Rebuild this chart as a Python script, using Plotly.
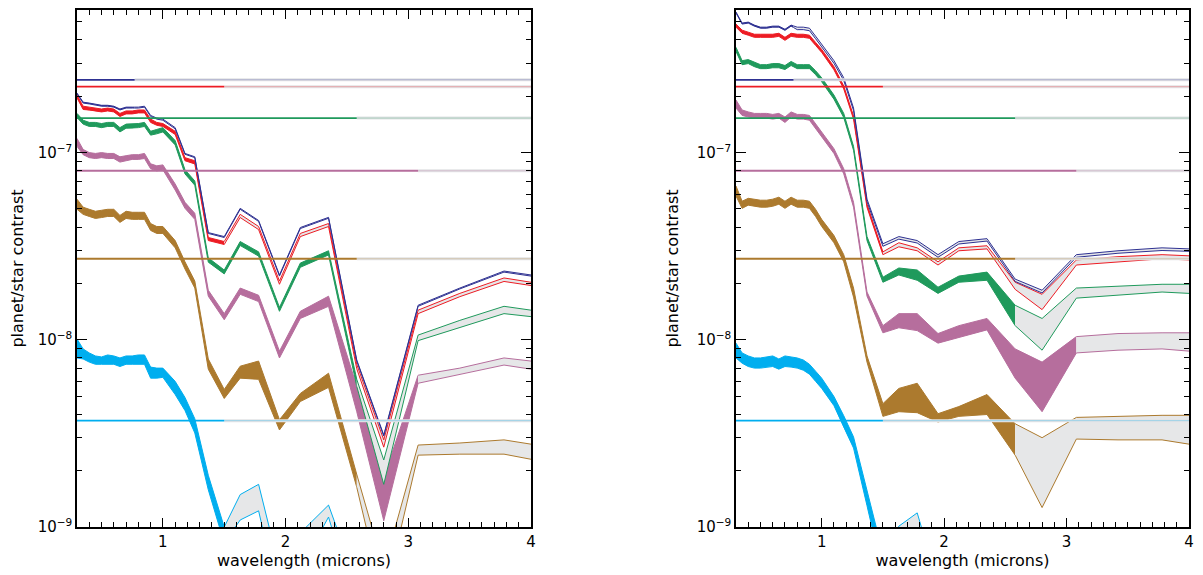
import numpy as np
import plotly.graph_objects as go

# ---------------- data ----------------
wavelength = [0.30, 0.35, 0.40, 0.45, 0.50, 0.55, 0.60, 0.65, 0.70, 0.75, 0.80, 0.85, 0.90, 0.95, 1.00,
              1.10, 1.18, 1.26, 1.37, 1.50, 1.63, 1.78, 1.95, 2.12, 2.35, 2.58, 2.80, 3.08, 3.42, 3.78, 4.00]

series_names = ["navy", "red", "green", "purple", "brown", "cyan"]
series_colors = ["#2e3192", "#ed1c24", "#1f9a5c", "#b66e9d", "#ac7a2e", "#00aeef"]

# detection-limit levels and the wavelength where each limit stops being "accessible"
limit_level = [2.45e-7, 2.25e-7, 1.53e-7, 8.0e-8, 2.71e-8, 3.70e-9]
limit_end = [0.77, 1.50, 2.58, 3.08, 2.58, 1.50]

# ---- left panel: upper / lower edges of each band ----
navy_hi_a = [2.08e-7, 1.86e-7, 1.84e-7, 1.82e-7, 1.79e-7, 1.79e-7, 1.77e-7, 1.71e-7, 1.75e-7, 1.75e-7, 1.75e-7, 1.77e-7, 1.58e-7, 1.53e-7, 1.51e-7,
             1.36e-7, 9.9e-8, 9.5e-8, 3.74e-8, 3.56e-8, 5.04e-8, 4.34e-8, 2.22e-8, 3.98e-8, 4.51e-8, 7.8e-9, 3.1e-9, 1.53e-8, 1.89e-8, 2.33e-8, 2.22e-8]
navy_lo_a = [2.06e-7, 1.84e-7, 1.82e-7, 1.80e-7, 1.77e-7, 1.77e-7, 1.75e-7, 1.69e-7, 1.73e-7, 1.73e-7, 1.73e-7, 1.75e-7, 1.56e-7, 1.51e-7, 1.49e-7,
             1.34e-7, 9.8e-8, 9.4e-8, 3.70e-8, 3.52e-8, 4.98e-8, 4.29e-8, 2.19e-8, 3.93e-8, 4.46e-8, 7.7e-9, 3.06e-9, 1.51e-8, 1.87e-8, 2.30e-8, 2.19e-8]
red_hi_a = [2.03e-7, 1.77e-7, 1.75e-7, 1.73e-7, 1.71e-7, 1.73e-7, 1.71e-7, 1.62e-7, 1.67e-7, 1.67e-7, 1.69e-7, 1.69e-7, 1.51e-7, 1.45e-7, 1.43e-7,
            1.30e-7, 9.4e-8, 9.05e-8, 3.52e-8, 3.35e-8, 4.68e-8, 4.03e-8, 2.06e-8, 3.70e-8, 4.18e-8, 7.4e-9, 2.92e-9, 1.44e-8, 1.77e-8, 2.14e-8, 2.03e-8]
red_lo_a = [1.96e-7, 1.70e-7, 1.69e-7, 1.67e-7, 1.65e-7, 1.67e-7, 1.65e-7, 1.56e-7, 1.61e-7, 1.61e-7, 1.63e-7, 1.63e-7, 1.45e-7, 1.40e-7, 1.38e-7,
            1.25e-7, 9.05e-8, 8.7e-8, 3.39e-8, 3.23e-8, 4.5e-8, 3.88e-8, 1.98e-8, 3.56e-8, 4.03e-8, 7.0e-9, 2.67e-9, 1.38e-8, 1.7e-8, 2.05e-8, 1.95e-8]
green_hi_a = [1.62e-7, 1.49e-7, 1.45e-7, 1.45e-7, 1.43e-7, 1.45e-7, 1.45e-7, 1.36e-7, 1.42e-7, 1.42e-7, 1.43e-7, 1.45e-7, 1.30e-7, 1.33e-7, 1.36e-7,
              1.16e-7, 8.1e-8, 7.06e-8, 2.74e-8, 2.36e-8, 3.35e-8, 2.95e-8, 1.49e-8, 2.57e-8, 2.99e-8, 6.15e-9, 2.28e-9, 1.06e-8, 1.27e-8, 1.51e-8, 1.44e-8]
green_lo_a = [1.54e-7, 1.42e-7, 1.38e-7, 1.38e-7, 1.36e-7, 1.38e-7, 1.38e-7, 1.29e-7, 1.35e-7, 1.35e-7, 1.36e-7, 1.38e-7, 1.24e-7, 1.26e-7, 1.29e-7,
              1.10e-7, 7.7e-8, 6.7e-8, 2.6e-8, 2.25e-8, 3.19e-8, 2.8e-8, 1.42e-8, 2.44e-8, 2.84e-8, 5.64e-9, 1.69e-9, 9.9e-9, 1.16e-8, 1.38e-8, 1.33e-8]
purple_hi_a = [1.19e-7, 1.04e-7, 1.0e-7, 9.9e-8, 1.0e-7, 9.9e-8, 9.9e-8, 9.5e-8, 9.63e-8, 9.75e-8, 9.75e-8, 9.9e-8, 8.72e-8, 8.5e-8, 8.6e-8,
               6.8e-8, 5.43e-8, 4.74e-8, 1.84e-8, 1.38e-8, 1.89e-8, 1.73e-8, 8.7e-9, 1.42e-8, 1.71e-8, 5.64e-9, 1.84e-9, 6.47e-9, 7.06e-9, 8.0e-9, 7.7e-9]
purple_lo_a = [1.08e-7, 9.75e-8, 9.4e-8, 9.3e-8, 9.4e-8, 9.3e-8, 9.3e-8, 8.9e-8, 9.05e-8, 9.2e-8, 9.2e-8, 9.3e-8, 8.2e-8, 7.99e-8, 8.1e-8,
               6.31e-8, 5.04e-8, 4.40e-8, 1.71e-8, 1.28e-8, 1.75e-8, 1.60e-8, 8.0e-9, 1.30e-8, 1.51e-8, 4.13e-9, 1.08e-9, 5.86e-9, 6.55e-9, 7.33e-9, 6.97e-9]
brown_hi_a = [5.64e-8, 5.11e-8, 4.98e-8, 4.86e-8, 4.92e-8, 4.98e-8, 4.98e-8, 4.62e-8, 4.86e-8, 4.80e-8, 4.80e-8, 4.80e-8, 4.18e-8, 4.03e-8, 4.03e-8,
              3.39e-8, 2.61e-8, 2.06e-8, 7.9e-9, 5.43e-9, 7.23e-9, 7.7e-9, 3.74e-9, 5.17e-9, 6.63e-9, 1.91e-9, 6e-10, 2.74e-9, 2.81e-9, 2.92e-9, 2.77e-9]
brown_lo_a = [4.98e-8, 4.68e-8, 4.56e-8, 4.45e-8, 4.5e-8, 4.56e-8, 4.56e-8, 4.24e-8, 4.45e-8, 4.40e-8, 4.40e-8, 4.40e-8, 3.84e-8, 3.70e-8, 3.70e-8,
              3.10e-8, 2.39e-8, 1.89e-8, 6.97e-9, 4.86e-9, 6.24e-9, 6.15e-9, 3.30e-9, 4.68e-9, 5.57e-9, 1.63e-9, 4e-10, 2.42e-9, 2.45e-9, 2.45e-9, 2.30e-9]
cyan_hi_a = [1.01e-8, 8.94e-9, 8.51e-9, 8.2e-9, 8.1e-9, 8.3e-9, 8.2e-9, 8.0e-9, 8.2e-9, 8.2e-9, 8.3e-9, 8.3e-9, 7.15e-9, 7.06e-9, 7.06e-9,
             6.0e-9, 4.92e-9, 3.79e-9, 1.89e-9, 1.0e-9, 1.49e-9, 1.69e-9, 6e-10, 9.3e-10, 1.31e-9, 5e-10, 3e-10, 3.5e-10, 3.6e-10, 3.7e-10, 3.6e-10]
cyan_lo_a = [8.0e-9, 7.9e-9, 7.6e-9, 7.4e-9, 7.4e-9, 7.4e-9, 7.4e-9, 7.2e-9, 7.4e-9, 7.4e-9, 7.4e-9, 7.4e-9, 6.24e-9, 6.24e-9, 6.3e-9,
             5.1e-9, 4.19e-9, 3.18e-9, 1.58e-9, 8.2e-10, 1.09e-9, 1.22e-9, 4e-10, 6e-10, 1.13e-9, 3.5e-10, 2e-10, 2.5e-10, 2.5e-10, 2.6e-10, 2.5e-10]

# ---- right panel ----
navy_hi_b = [5.64e-7, 4.92e-7, 4.98e-7, 4.80e-7, 4.68e-7, 4.68e-7, 4.74e-7, 4.74e-7, 4.56e-7, 4.80e-7, 4.68e-7, 4.68e-7, 4.62e-7, 4.19e-7, 3.79e-7,
             3.10e-7, 2.51e-7, 1.73e-7, 5.64e-8, 3.26e-8, 3.56e-8, 3.39e-8, 2.85e-8, 3.35e-8, 3.47e-8, 2.11e-8, 1.84e-8, 2.85e-8, 2.99e-8, 3.10e-8, 3.06e-8]
navy_lo_b = [5.57e-7, 4.86e-7, 4.92e-7, 4.74e-7, 4.62e-7, 4.62e-7, 4.68e-7, 4.68e-7, 4.50e-7, 4.74e-7, 4.54e-7, 4.54e-7, 4.48e-7, 4.06e-7, 3.68e-7,
             3.0e-7, 2.43e-7, 1.68e-7, 5.47e-8, 3.16e-8, 3.45e-8, 3.29e-8, 2.76e-8, 3.25e-8, 3.37e-8, 2.05e-8, 1.78e-8, 2.76e-8, 2.90e-8, 3.0e-8, 2.97e-8]
red_hi_b = [4.86e-7, 4.51e-7, 4.40e-7, 4.29e-7, 4.29e-7, 4.29e-7, 4.29e-7, 4.34e-7, 4.13e-7, 4.34e-7, 4.29e-7, 4.29e-7, 4.24e-7, 3.88e-7, 3.56e-7,
            2.88e-7, 2.27e-7, 1.57e-7, 5.30e-8, 2.95e-8, 3.30e-8, 3.10e-8, 2.61e-8, 3.10e-8, 3.18e-8, 2.03e-8, 1.75e-8, 2.67e-8, 2.78e-8, 2.85e-8, 2.81e-8]
red_lo_b = [4.68e-7, 4.34e-7, 4.24e-7, 4.13e-7, 4.13e-7, 4.13e-7, 4.13e-7, 4.18e-7, 3.98e-7, 4.18e-7, 4.13e-7, 4.13e-7, 4.08e-7, 3.74e-7, 3.43e-7,
            2.77e-7, 2.19e-7, 1.51e-7, 5.10e-8, 2.85e-8, 3.14e-8, 2.99e-8, 2.51e-8, 2.99e-8, 3.06e-8, 1.86e-8, 1.45e-8, 2.51e-8, 2.61e-8, 2.71e-8, 2.67e-8]
green_hi_b = [3.65e-7, 3.10e-7, 3.14e-7, 3.03e-7, 2.95e-7, 2.95e-7, 2.99e-7, 2.99e-7, 2.92e-7, 3.07e-7, 2.95e-7, 2.95e-7, 2.95e-7, 2.74e-7, 2.51e-7,
              2.03e-7, 1.62e-7, 1.08e-7, 3.56e-8, 2.16e-8, 2.42e-8, 2.36e-8, 1.91e-8, 2.19e-8, 2.30e-8, 1.53e-8, 1.30e-8, 1.89e-8, 1.93e-8, 1.98e-8, 1.98e-8]
green_lo_b = [3.47e-7, 2.95e-7, 2.99e-7, 2.88e-7, 2.81e-7, 2.81e-7, 2.84e-7, 2.84e-7, 2.78e-7, 2.92e-7, 2.81e-7, 2.81e-7, 2.81e-7, 2.61e-7, 2.39e-7,
              1.93e-7, 1.54e-7, 1.03e-7, 3.39e-8, 2.03e-8, 2.22e-8, 2.08e-8, 1.77e-8, 2.03e-8, 2.08e-8, 1.19e-8, 8.8e-9, 1.67e-8, 1.73e-8, 1.80e-8, 1.77e-8]
purple_hi_b = [1.91e-7, 1.69e-7, 1.65e-7, 1.62e-7, 1.62e-7, 1.62e-7, 1.60e-7, 1.62e-7, 1.55e-7, 1.65e-7, 1.60e-7, 1.60e-7, 1.58e-7, 1.43e-7, 1.30e-7,
               1.05e-7, 8.2e-8, 5.43e-8, 1.80e-8, 1.19e-8, 1.38e-8, 1.38e-8, 1.08e-8, 1.19e-8, 1.30e-8, 8.94e-9, 7.6e-9, 1.04e-8, 1.08e-8, 1.09e-8, 1.09e-8]
purple_lo_b = [1.73e-7, 1.58e-7, 1.55e-7, 1.53e-7, 1.53e-7, 1.53e-7, 1.51e-7, 1.53e-7, 1.45e-7, 1.55e-7, 1.51e-7, 1.51e-7, 1.49e-7, 1.35e-7, 1.22e-7,
               9.9e-8, 7.7e-8, 5.11e-8, 1.71e-8, 1.09e-8, 1.16e-8, 1.12e-8, 9.6e-9, 1.03e-8, 1.13e-8, 6.24e-9, 4.13e-9, 8.51e-9, 8.8e-9, 8.94e-9, 8.7e-9]
brown_hi_b = [6.63e-8, 5.50e-8, 5.70e-8, 5.64e-8, 5.57e-8, 5.57e-8, 5.64e-8, 5.78e-8, 5.50e-8, 5.78e-8, 5.57e-8, 5.57e-8, 5.50e-8, 4.98e-8, 4.40e-8,
              3.61e-8, 2.85e-8, 1.89e-8, 8.2e-9, 4.56e-9, 5.50e-9, 5.86e-9, 4.03e-9, 4.4e-9, 5.10e-9, 3.56e-9, 3.0e-9, 3.85e-9, 3.9e-9, 3.95e-9, 3.95e-9]
brown_lo_b = [5.86e-8, 5.04e-8, 5.24e-8, 5.17e-8, 5.11e-8, 5.11e-8, 5.17e-8, 5.30e-8, 5.04e-8, 5.30e-8, 5.11e-8, 5.11e-8, 5.04e-8, 4.56e-8, 4.03e-8,
              3.30e-8, 2.61e-8, 1.69e-8, 7.6e-9, 3.9e-9, 4.13e-9, 4.08e-9, 3.64e-9, 3.9e-9, 3.99e-9, 2.42e-9, 1.27e-9, 2.95e-9, 2.92e-9, 2.92e-9, 2.77e-9]
cyan_hi_b = [9.6e-9, 8.51e-9, 8.2e-9, 8.0e-9, 8.0e-9, 8.1e-9, 8.2e-9, 7.9e-9, 8.2e-9, 8.1e-9, 8.0e-9, 7.8e-9, 7.4e-9, 6.8e-9, 6.24e-9,
             4.98e-9, 3.93e-9, 3.03e-9, 1.53e-9, 7.2e-10, 1.01e-9, 1.19e-9, 5e-10, 4e-10, 4.5e-10, 3e-10, 2.5e-10, 3e-10, 3e-10, 3e-10, 3e-10]
cyan_lo_b = [8.0e-9, 7.5e-9, 7.2e-9, 7.06e-9, 7.06e-9, 7.15e-9, 7.2e-9, 6.97e-9, 7.2e-9, 7.15e-9, 7.06e-9, 6.88e-9, 6.55e-9, 6.0e-9, 5.5e-9,
             4.45e-9, 3.39e-9, 2.64e-9, 1.30e-9, 5.6e-10, 8.2e-10, 9.9e-10, 3.5e-10, 3e-10, 3e-10, 2e-10, 2e-10, 2e-10, 2e-10, 2e-10, 2e-10]

panel_a = [(navy_hi_a, navy_lo_a), (red_hi_a, red_lo_a), (green_hi_a, green_lo_a),
           (purple_hi_a, purple_lo_a), (brown_hi_a, brown_lo_a), (cyan_hi_a, cyan_lo_a)]
panel_b = [(navy_hi_b, navy_lo_b), (red_hi_b, red_lo_b), (green_hi_b, green_lo_b),
           (purple_hi_b, purple_lo_b), (brown_hi_b, brown_lo_b), (cyan_hi_b, cyan_lo_b)]

x_ticks = [1, 2, 3, 4]
y_ticks = [1e-9, 1e-8, 1e-7]
y_ticktext = ["10<sup>\u22129</sup>", "10<sup>\u22128</sup>", "10<sup>\u22127</sup>"]
X_RANGE = [0.3, 4.0]
Y_TOP = 5.78e-7

# ---------------- styling ----------------
GRAY_FILL = "#e6e7e8"
FONT = "DejaVu Sans"

fig = go.Figure()


def add_band(hi, lo, xe, color, xa, ya):
    x = np.array(wavelength, dtype=float)
    hi = np.array(hi, dtype=float)
    lo = np.array(lo, dtype=float)
    he = 10 ** np.interp(xe, x, np.log10(hi))
    le = 10 ** np.interp(xe, x, np.log10(lo))
    m1 = x < xe - 1e-9
    m2 = x > xe + 1e-9
    parts = [
        (list(x[m1]) + [xe], list(hi[m1]) + [he], list(lo[m1]) + [le], color),
        ([xe] + list(x[m2]), [he] + list(hi[m2]), [le] + list(lo[m2]), GRAY_FILL),
    ]
    for px, ph, pl, fc in parts:
        if len(px) < 2:
            continue
        fig.add_trace(go.Scatter(x=px + px[::-1], y=ph + pl[::-1], fill="toself",
                                 fillcolor=fc, mode="lines", line=dict(width=0),
                                 xaxis=xa, yaxis=ya, hoverinfo="skip", showlegend=False))
        for edge in (ph, pl):
            fig.add_trace(go.Scatter(x=px, y=edge, mode="lines",
                                     line=dict(color=color, width=1),
                                     xaxis=xa, yaxis=ya, hoverinfo="skip", showlegend=False))


def add_limit(level, xe, color, xa, ya):
    fig.add_trace(go.Scatter(x=[xe, X_RANGE[1]], y=[level, level], mode="lines",
                             line=dict(color="#e2e3e5", width=3),
                             xaxis=xa, yaxis=ya, hoverinfo="skip", showlegend=False))
    fig.add_trace(go.Scatter(x=[xe, X_RANGE[1]], y=[level, level], mode="lines",
                             line=dict(color=color, width=1), opacity=0.3,
                             xaxis=xa, yaxis=ya, hoverinfo="skip", showlegend=False))
    fig.add_trace(go.Scatter(x=[X_RANGE[0], xe], y=[level, level], mode="lines",
                             line=dict(color=color, width=1.8),
                             xaxis=xa, yaxis=ya, hoverinfo="skip", showlegend=False))


for panel, (xa, ya) in ((panel_a, ("x", "y")), (panel_b, ("x2", "y2"))):
    for i in reversed(range(len(series_names))):
        hi, lo = panel[i]
        add_band(hi, lo, limit_end[i], series_colors[i], xa, ya)
    for i in range(len(series_names)):
        add_limit(limit_level[i], limit_end[i], series_colors[i], xa, ya)

minor_y = [m * 10.0 ** e for e in (-9, -8, -7) for m in range(2, 10) if m * 10.0 ** e <= Y_TOP]

xcommon = dict(range=X_RANGE, tickmode="array", tickvals=x_ticks, ticks="inside", ticklen=9,
               tickwidth=1.2, tickcolor="black", showline=True, linecolor="black", linewidth=1.5,
               mirror="allticks", showgrid=False, zeroline=False,
               minor=dict(ticks="inside", ticklen=5, tickwidth=1, tickcolor="black",
                          tick0=0, dtick=0.1, showgrid=False),
               tickfont=dict(family=FONT, size=15, color="black"),
               title=dict(text="wavelength (microns)", font=dict(family=FONT, size=16, color="black"),
                          standoff=3))
ycommon = dict(type="log", range=[-9, float(np.log10(Y_TOP))], tickmode="array", tickvals=y_ticks,
               ticktext=y_ticktext, ticks="inside", ticklen=10, tickwidth=1.2, tickcolor="black",
               showline=True, linecolor="black", linewidth=1.5, mirror="allticks",
               showgrid=False, zeroline=False,
               minor=dict(ticks="inside", ticklen=5, tickwidth=1, tickcolor="black",
                          tickmode="array", tickvals=minor_y, showgrid=False),
               tickfont=dict(family=FONT, size=15, color="black"),
               title=dict(text="planet/star contrast", font=dict(family=FONT, size=16, color="black"),
                          standoff=14))

# the page adds an 8px body margin, so the figure is sized/placed to compensate
W, H = 1195, 567
ml, mr, mt, mb = 69, 14, 0, 48
pw = W - ml - mr
fig.update_layout(
    width=W, height=H,
    margin=dict(l=ml, r=mr, t=mt, b=mb),
    paper_bgcolor="white", plot_bgcolor="white",
    showlegend=False,
    xaxis=dict(domain=[0, 454 / pw], anchor="y", **xcommon),
    yaxis=dict(domain=[0, 1], anchor="x", **ycommon),
    xaxis2=dict(domain=[659 / pw, 1], anchor="y2", **xcommon),
    yaxis2=dict(domain=[0, 1], anchor="x2", **ycommon),
)

fig.write_html("out.html")
